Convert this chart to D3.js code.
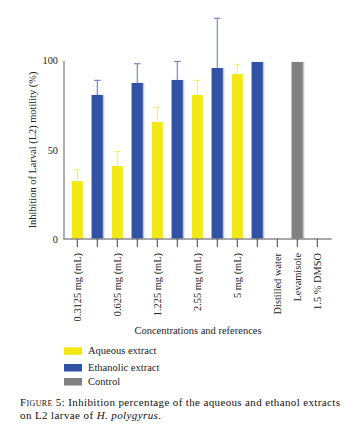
<!DOCTYPE html>
<html><head><meta charset="utf-8">
<script src="https://cdn.jsdelivr.net/npm/d3@7"></script>
<style>
html,body{margin:0;padding:0;background:#fff;}
svg{display:block;font-family:"Liberation Serif","DejaVu Serif",serif;}
</style></head>
<body><svg id="c" width="356" height="431"></svg>
<script>
// ---- data ----
const categories = ["c1","c2","c3","c4","c5","c6","c7","c8","c9","c10","c11","c12","c13"];
const tickLabels = ["0.3125 mg (mL)","","0.625 mg (mL)","","1.225 mg (mL)","","2.55 mg (mL)","","5 mg (mL)","","Distilled water","Levamisole","1.5 % DMSO"];
const groups = ["Aqueous","Ethanolic","Aqueous","Ethanolic","Aqueous","Ethanolic","Aqueous","Ethanolic","Aqueous","Ethanolic","Control","Control","Control"];
const values = [32.5, 80.8, 40.9, 87.5, 65.6, 89.2, 80.8, 95.9, 92.5, 99.3, 0, 99.3, 0];
const errors = [6.4, 8.2, 8.1, 10.8, 8.3, 10.4, 8.2, 27.9, 5.5, 0, 0, 0, 0];
const yTicks = [0, 50, 100];
const legendLabels = ["Aqueous extract","Ethanolic extract","Control"];
const legendKeys = ["Aqueous","Ethanolic","Control"];

const fill = {Aqueous:"#f2e816", Ethanolic:"#3151a2", Control:"#808080"};
const edge = {Aqueous:"#f2e816", Ethanolic:"#b9c6e8", Control:"#c8c8c8"};
const errColor = {Aqueous:"#f3ec6a", Ethanolic:"#6d80c0", Control:"#999"};

const svg = d3.select("#c");
const x = d3.scaleBand().domain(categories).range([67.3, 327.3]).padding(0);
const y = d3.scaleLinear().domain([0,100]).range([239, 60.7]);
const bw = x.bandwidth()*0.55;
const cx = d => x(d) + x.bandwidth()/2;

// bars
const bars = categories.map((c,i)=>({c, v:values[i], e:errors[i], g:groups[i]}));
const bg = svg.append("g");
bg.selectAll("rect.sh").data(bars.filter(d=>d.v>0 && d.g!=="Aqueous")).join("rect")
  .attr("x", d=>cx(d.c)-bw/2-0.7).attr("width", bw+2.2)
  .attr("y", d=>y(d.v)).attr("height", d=>y(0)-y(d.v))
  .attr("fill", d=>edge[d.g]);
bg.selectAll("rect.b").data(bars.filter(d=>d.v>0)).join("rect")
  .attr("x", d=>cx(d.c)-bw/2).attr("width", bw)
  .attr("y", d=>y(d.v)).attr("height", d=>y(0)-y(d.v))
  .attr("fill", d=>fill[d.g]);

// error bars
const eb = svg.append("g").selectAll("g").data(bars.filter(d=>d.e>0)).join("g")
  .attr("stroke", d=>errColor[d.g]).attr("stroke-width", 1.1);
eb.append("line").attr("x1", d=>cx(d.c)).attr("x2", d=>cx(d.c))
  .attr("y1", d=>y(d.v)).attr("y2", d=>y(d.v+d.e));
eb.append("line").attr("x1", d=>cx(d.c)-3.3).attr("x2", d=>cx(d.c)+3.3)
  .attr("y1", d=>y(d.v+d.e)).attr("y2", d=>y(d.v+d.e));

// axes lines
svg.append("line").attr("x1",64).attr("x2",64).attr("y1",y(0)).attr("y2",y(100))
  .attr("stroke","#8c8c8c").attr("stroke-width",1.4);
svg.append("line").attr("x1",63.3).attr("x2",331.7).attr("y1",y(0)).attr("y2",y(0))
  .attr("stroke","#8c8c8c").attr("stroke-width",1.4);

// y axis
const ya = svg.append("g").attr("transform","translate(64,0)")
  .call(d3.axisLeft(y).tickValues(yTicks).tickSize(0).tickPadding(6));
ya.select(".domain").remove();
ya.selectAll("text").attr("font-family","Liberation Serif").attr("font-size",10.3).attr("fill","#222");

// x axis
const xa = svg.append("g").attr("transform",`translate(0,${y(0)})`)
  .call(d3.axisBottom(x).tickSizeInner(8).tickSizeOuter(0).tickFormat((d,i)=>tickLabels[i]));
xa.select(".domain").remove();
xa.selectAll(".tick line").attr("stroke","#444").attr("stroke-width",1);
xa.selectAll(".tick text")
  .attr("font-family","Liberation Serif").attr("font-size",10.4).attr("fill","#222")
  .attr("text-anchor","end").attr("transform","rotate(-90)")
  .attr("x",-14).attr("y",0).attr("dy","0.35em");

// y title
svg.append("text").attr("transform",`translate(36,150) rotate(-90)`)
  .attr("text-anchor","middle").attr("font-size",10.4).attr("fill","#222")
  .text("Inhibition of Larval (L2) motility (%)");

// x title
svg.append("text").attr("x",198).attr("y",333.5).attr("text-anchor","middle")
  .attr("font-size",10.5).attr("fill","#222").text("Concentrations and references");

// legend
const ly = [347.3, 364, 378];
const lg = svg.append("g").selectAll("g").data(legendKeys).join("g");
lg.append("rect").attr("x",64).attr("y",(d,i)=>ly[i]).attr("width",18).attr("height",7.5)
  .attr("fill", d=>fill[d]);
lg.append("text").attr("x",88).attr("y",(d,i)=>ly[i]+6.8).attr("font-size",10.5).attr("fill","#222")
  .text((d,i)=>legendLabels[i]);

// caption
const cap1 = svg.append("text").attr("x",20).attr("y",406).attr("font-size",11)
  .attr("fill","#111").attr("textLength",320).attr("lengthAdjust","spacing");
cap1.append("tspan").attr("font-variant","small-caps").text("Figure");
cap1.append("tspan").text(" 5: Inhibition percentage of the aqueous and ethanol extracts");
const cap2 = svg.append("text").attr("x",20).attr("y",419).attr("font-size",11)
  .attr("fill","#111").attr("textLength",141).attr("lengthAdjust","spacing");
cap2.append("tspan").text("on L2 larvae of ");
cap2.append("tspan").attr("font-style","italic").text("H. polygyrus");
cap2.append("tspan").text(".");
</script></body></html>
